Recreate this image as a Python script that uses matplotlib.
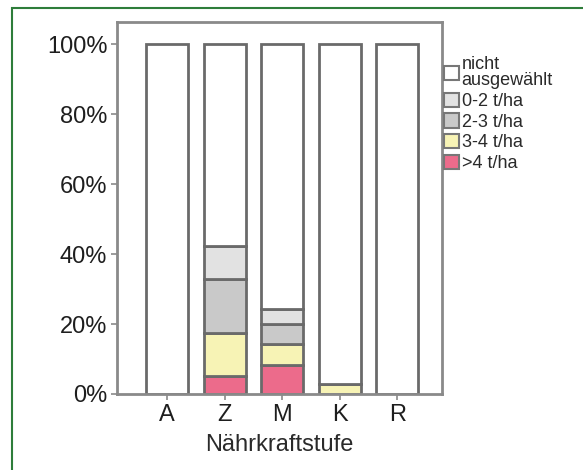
import matplotlib
matplotlib.use("Agg")
import matplotlib.pyplot as plt
from matplotlib.patches import Rectangle
import numpy as np

categories = ["A", "Z", "M", "K", "R"]
gt4 = [0, 5.1, 8.2, 0, 0]
t3_4 = [0, 12.2, 6.0, 2.8, 0]
t2_3 = [0, 15.5, 5.7, 0, 0]
t0_2 = [0, 9.6, 4.3, 0, 0]
nicht = [100, 57.6, 75.8, 97.2, 100]

series = [
    (">4 t/ha", gt4, "#ec6b8b"),
    ("3-4 t/ha", t3_4, "#f7f3b5"),
    ("2-3 t/ha", t2_3, "#c9c9c9"),
    ("0-2 t/ha", t0_2, "#e2e2e2"),
    ("nicht\nausgewählt", nicht, "#ffffff"),
]

plt.rcParams['font.family'] = ['Liberation Sans', 'DejaVu Sans']
W, H = 583, 470
fig = plt.figure(figsize=(W / 100, H / 100), dpi=100)
ax = fig.add_axes([117 / W, (H - 394) / H, (442 - 117) / W, (394 - 22) / H])

x = np.arange(len(categories))
bottom = np.zeros(len(categories))
handles = {}
for label, vals, col in series:
    b = ax.bar(x, vals, width=0.73, bottom=bottom, color=col,
               edgecolor="#6a6a6a", linewidth=2, label=label)
    handles[label] = b
    bottom += np.array(vals)

ax.set_xlim(-0.87, 4.78)
ax.set_ylim(0, 106.3)
ax.set_yticks([0, 20, 40, 60, 80, 100])
ax.set_yticklabels(["0%", "20%", "40%", "60%", "80%", "100%"])
ax.set_xticks(x)
ax.set_xticklabels(categories)
ax.tick_params(axis="both", labelsize=17, colors="#8a8a8a", labelcolor="#1e1e1e",
               length=4, width=1.2, pad=3)
for s in ax.spines.values():
    s.set_color("#8a8a8a")
    s.set_linewidth(2)
ax.set_xlabel("Nährkraftstufe", fontsize=17, color="#2a2a2a", labelpad=6)

order = ["nicht\nausgewählt", "0-2 t/ha", "2-3 t/ha", "3-4 t/ha", ">4 t/ha"]
leg = fig.legend([handles[k] for k in order], order, loc="upper left",
                 bbox_to_anchor=(444 / W, (H - 56) / H), frameon=False,
                 fontsize=13, handlelength=0.85, handleheight=0.85,
                 handletextpad=0.12, labelspacing=0.18, borderaxespad=0,
                 borderpad=0)
for t in leg.get_texts():
    t.set_color("#2a2a2a")
    t.set_linespacing(0.95)
for p in leg.get_patches():
    p.set_linewidth(1.5)
    p.set_edgecolor("#777777")

fig.patches.append(Rectangle((12 / W, -0.1), 1.2, (H - 8) / H + 0.1,
                             transform=fig.transFigure, fill=False,
                             edgecolor="#2e7d3a", linewidth=1.5))

fig.savefig("out.png", dpi=100, facecolor="white")
